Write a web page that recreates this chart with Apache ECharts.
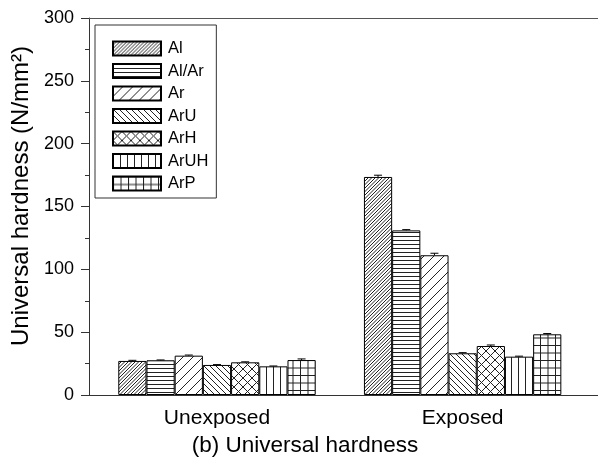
<!DOCTYPE html>
<html>
<head>
<meta charset="utf-8">
<script src="https://cdn.jsdelivr.net/npm/echarts@6/dist/echarts.min.js"></script>
<style>
  html, body { margin: 0; padding: 0; background: #fff; }
  #chart { width: 598px; height: 467px; }
</style>
</head>
<body>
<div id="chart"></div>
<script>
// Universal hardness of coatings, unexposed vs exposed
const categories = ['Unexposed', 'Exposed'];
const seriesNames = ['Al', 'Al/Ar', 'Ar', 'ArU', 'ArH', 'ArUH', 'ArP'];

// mean hardness (N/mm²) per coating: [Unexposed, Exposed]
const hardAl   = [27.1, 173.5];
const hardAlAr = [27.6, 131.0];
const hardAr   = [31.3, 111.2];
const hardArU  = [23.9, 33.2];
const hardArH  = [26.0, 39.0];
const hardArUH = [22.8, 30.5];
const hardArP  = [27.8, 48.3];

// standard deviation per coating: [Unexposed, Exposed]
const errAl   = [0.5, 1.4];
const errAlAr = [0.3, 0.6];
const errAr   = [0.5, 1.6];
const errArU  = [0.3, 0.5];
const errArH  = [0.4, 0.8];
const errArUH = [0.3, 0.4];
const errArP  = [0.9, 0.6];

// y-axis ticks
const yMin = 0, yMax = 300, yStep = 50;

const values = [hardAl, hardAlAr, hardAr, hardArU, hardArH, hardArUH, hardArP];
const errors = [errAl, errAlAr, errAr, errArU, errArH, errArUH, errArP];

const FONT = '"Liberation Sans", Arial, sans-serif';
const BAR_W = 28.2;

// hatch fill builder: tile of size t, n lines per tile
function hatch(kind, t, n) {
  const c = document.createElement('canvas');
  c.width = t; c.height = t;
  const g = c.getContext('2d');
  g.fillStyle = '#fff';
  g.fillRect(0, 0, t, t);
  g.strokeStyle = '#222';
  g.lineWidth = 1;
  g.beginPath();
  const step = t / n;
  for (let j = 0; j < n; j++) {
    const o = j * step;
    if (kind === 'fwd' || kind === 'cross') {
      for (let k = -1; k <= 1; k++) { g.moveTo(k * t + o, t); g.lineTo(k * t + o + t, 0); }
    }
    if (kind === 'back' || kind === 'cross') {
      for (let k = -1; k <= 1; k++) { g.moveTo(k * t + o, 0); g.lineTo(k * t + o + t, t); }
    }
    if (kind === 'horiz' || kind === 'grid') {
      g.moveTo(0, o + 0.5); g.lineTo(t, o + 0.5);
    }
    if (kind === 'vert' || kind === 'grid') {
      g.moveTo(o + 0.5, 0); g.lineTo(o + 0.5, t);
    }
  }
  g.stroke();
  return { image: c, repetition: 'repeat' };
}

const fills = [
  hatch('fwd', 7, 2),
  hatch('horiz', 8, 2),
  hatch('fwd', 10, 1),
  hatch('back', 6, 1),
  hatch('cross', 9, 1),
  hatch('vert', 7, 1),
  hatch('grid', 15, 2)
];

const barSeries = seriesNames.map((name, i) => ({
  name: name,
  type: 'bar',
  xAxisIndex: 0,
  barWidth: BAR_W,
  barGap: '0%',
  itemStyle: { color: fills[i], borderColor: '#000', borderWidth: 1 },
  emphasis: { disabled: true },
  data: values[i].map((v, g) => [g + 1, v])
}));

const errData = [];
values.forEach((arr, i) => arr.forEach((v, g) => errData.push([g + 1, v, errors[i][g], i])));

const errSeries = {
  type: 'custom',
  xAxisIndex: 0,
  z: 5,
  silent: true,
  encode: { x: 0, y: 1 },
  data: errData,
  renderItem: function (params, api) {
    const x = api.value(0), v = api.value(1), e = api.value(2), i = api.value(3);
    const top = api.coord([x, v + e]);
    const base = api.coord([x, v]);
    const cx = top[0] + (i - 3) * BAR_W;
    const st = { stroke: '#000', lineWidth: 1 };
    return {
      type: 'group',
      children: [
        { type: 'line', shape: { x1: cx, y1: base[1], x2: cx, y2: top[1] }, style: st },
        { type: 'line', shape: { x1: cx - 4, y1: top[1], x2: cx + 4, y2: top[1] }, style: st }
      ]
    };
  }
};

const chart = echarts.init(document.getElementById('chart'), null, { renderer: 'canvas' });
chart.setOption({
  animation: false,
  backgroundColor: '#fff',
  textStyle: { fontFamily: FONT },
  grid: { left: 89, right: 0, top: 18, bottom: 72 },
  legend: {
    orient: 'vertical',
    left: 95, top: 25,
    padding: [15, 8, 6, 17],
    itemWidth: 48, itemHeight: 14, itemGap: 5.5,
    borderColor: '#333', borderWidth: 1,
    icon: 'rect',
    data: seriesNames,
    textStyle: { fontFamily: FONT, fontSize: 16.5, color: '#000', padding: [0, 0, 0, 2] }
  },
  xAxis: [
    {
      type: 'value', position: 'bottom',
      min: 0.479, max: 2.551,
      axisLine: { show: true, onZero: false, lineStyle: { color: '#333', width: 1 } },
      axisTick: { show: false },
      splitLine: { show: false },
      axisLabel: {
        customValues: [1, 2],
        formatter: v => categories[Math.round(v) - 1] || '',
        fontFamily: FONT, fontSize: 21, color: '#000', margin: 13
      }
    },
    {
      type: 'value', position: 'top',
      min: 0.479, max: 2.551,
      axisLine: { show: true, onZero: false, lineStyle: { color: '#555', width: 1 } },
      axisTick: { show: false }, axisLabel: { show: false }, splitLine: { show: false }
    }
  ],
  yAxis: {
    type: 'value', min: yMin, max: yMax, interval: yStep,
    axisLine: { show: true, lineStyle: { color: '#333', width: 1 } },
    axisTick: { show: true, inside: false, length: 8, lineStyle: { color: '#333' } },
    minorTick: { show: true, splitNumber: 2, length: 4, lineStyle: { color: '#333' } },
    splitLine: { show: false },
    axisLabel: { fontFamily: FONT, fontSize: 18, color: '#000', margin: 15 }
  },
  graphic: [
    {
      type: 'text', x: 21, y: 196, rotation: Math.PI / 2,
      style: {
        text: 'Universal hardness (N/mm²)',
        font: '24px ' + FONT, fill: '#000',
        textAlign: 'center', textVerticalAlign: 'middle'
      }
    },
    {
      type: 'text', x: 305, y: 446,
      style: {
        text: '(b) Universal hardness',
        font: '22.5px ' + FONT, fill: '#000',
        textAlign: 'center', textVerticalAlign: 'middle'
      }
    }
  ],
  series: barSeries.concat([errSeries])
});
</script>
</body>
</html>
